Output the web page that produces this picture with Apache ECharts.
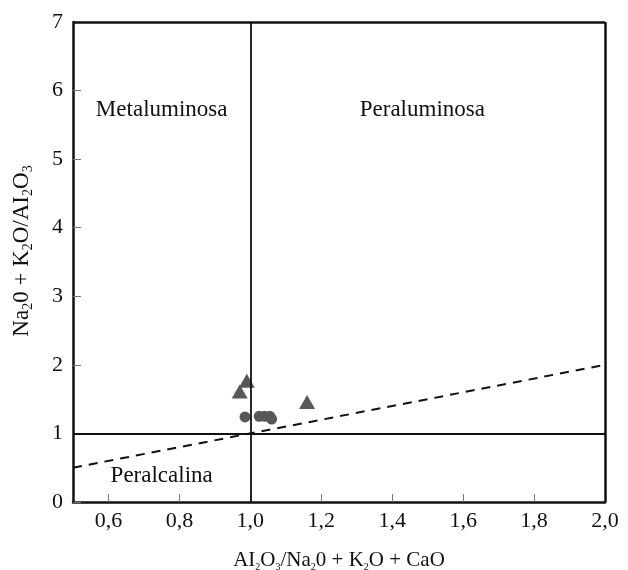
<!DOCTYPE html>
<html>
<head>
<meta charset="utf-8">
<script src="https://cdn.jsdelivr.net/npm/echarts@6/dist/echarts.min.js"></script>
<style>
  html, body { margin: 0; padding: 0; background: #fff; }
  #chart { width: 628px; height: 570px; }
</style>
</head>
<body>
<div id="chart"></div>
<script>
// Samples plotted as triangles: [A/CNK, A/NK]
const triangleSamples = [[0.99, 1.77], [0.97, 1.61], [1.16, 1.46]];
// Samples plotted as circles
const circleSamples = [[0.985, 1.24], [1.025, 1.25], [1.04, 1.25], [1.055, 1.25], [1.06, 1.21]];
// Field boundaries
const dividerY = 1.0;
const dividerX = 1.0;
const diagonalLine = [[0.5, 0.5], [2.0, 2.0]];
// Field names and their anchor points
const fieldNames = ['Metaluminosa', 'Peraluminosa', 'Peralcalina'];
const fieldAnchors = [[0.75, 5.72], [1.485, 5.72], [0.75, 0.38]];
// Axis ticks
const xTicks = [0.6, 0.8, 1.0, 1.2, 1.4, 1.6, 1.8, 2.0];
const yTicks = [0, 1, 2, 3, 4, 5, 6, 7];

const serif = '"Liberation Serif", "Times New Roman", serif';
const ink = '#111111';
const markGrey = '#585858';

const chart = echarts.init(document.getElementById('chart'));
chart.setOption({
  animation: false,
  backgroundColor: '#fff',
  textStyle: { fontFamily: serif, color: ink },
  grid: { left: 73, right: 23, top: 22, bottom: 68, containLabel: false, outerBoundsMode: 'none' },
  xAxis: {
    type: 'value',
    min: 0.5,
    max: 2.0,
    name: '{t|AI}{s|2}{t|O}{s|3}{t|/Na}{s|2}{t|0 + K}{s|2}{t|O + CaO}',
    nameLocation: 'middle',
    nameGap: 46,
    nameTextStyle: {
      rich: {
        t: { fontFamily: serif, fontSize: 21, color: ink },
        s: { fontFamily: serif, fontSize: 10, color: ink, padding: [14, 0, 0, 0] }
      }
    },
    axisLine: { show: true, lineStyle: { color: ink, width: 2.5 } },
    axisTick: { show: true, inside: true, length: 8, customValues: xTicks, lineStyle: { color: '#777', width: 1 } },
    axisLabel: {
      customValues: xTicks,
      fontFamily: serif, fontSize: 22, color: ink, margin: 8,
      formatter: v => v.toFixed(1).replace('.', ',')
    },
    splitLine: { show: false }
  },
  yAxis: {
    type: 'value',
    min: 0,
    max: 7,
    interval: 1,
    name: '{t|Na}{s|2}{t|0 + K}{s|2}{t|O/AI}{s|2}{t|O}{s|3}',
    nameLocation: 'middle',
    nameRotate: 90,
    nameGap: 38,
    nameTextStyle: {
      padding: [0, 0, 0, 22],
      rich: {
        t: { fontFamily: serif, fontSize: 23, color: ink },
        s: { fontFamily: serif, fontSize: 14, color: ink, padding: [12, 0, 0, 0] }
      }
    },
    axisLine: { show: true, lineStyle: { color: ink, width: 2.5 } },
    axisTick: { show: true, inside: true, length: 8, lineStyle: { color: '#777', width: 1 } },
    axisLabel: { fontFamily: serif, fontSize: 22, color: ink, margin: 10 },
    splitLine: { show: false }
  },
  series: [
    {
      // frame on top and right, plus the two solid field boundaries
      type: 'line',
      data: [],
      silent: true,
      markLine: {
        symbol: 'none',
        silent: true,
        label: { show: false },
        lineStyle: { color: ink, type: 'solid', width: 1.8 },
        data: [
          { yAxis: dividerY },
          { xAxis: dividerX },
          { yAxis: 7, lineStyle: { width: 2.5 } },
          { xAxis: 2.0, lineStyle: { width: 2.5 } }
        ]
      }
    },
    {
      type: 'line',
      data: diagonalLine,
      symbol: 'none',
      silent: true,
      lineStyle: { color: ink, width: 2, type: [9, 7] }
    },
    {
      type: 'scatter',
      data: triangleSamples,
      symbol: 'triangle',
      symbolSize: [16, 14],
      itemStyle: { color: markGrey, opacity: 1 }
    },
    {
      type: 'scatter',
      data: circleSamples,
      symbol: 'circle',
      symbolSize: 11,
      itemStyle: { color: markGrey, opacity: 1 }
    },
    {
      type: 'scatter',
      silent: true,
      symbolSize: 0,
      itemStyle: { opacity: 1 },
      data: fieldNames.map((n, i) => ({ name: n, value: fieldAnchors[i] })),
      label: {
        show: true,
        position: 'inside',
        formatter: p => p.name,
        fontFamily: serif,
        fontSize: 23,
        color: ink
      }
    }
  ]
});
</script>
</body>
</html>
